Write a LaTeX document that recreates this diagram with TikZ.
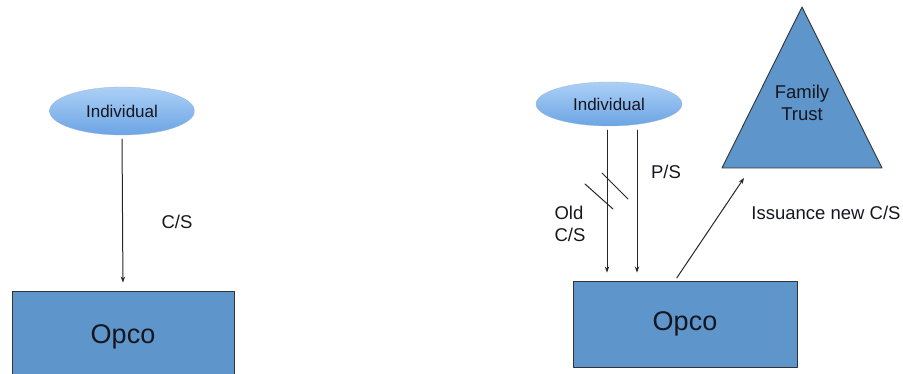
\documentclass[tikz,border=0pt]{standalone}
\usepackage{fontspec}
\setmainfont{Liberation Sans}
\usetikzlibrary{arrows.meta,shapes.geometric}
\definecolor{ovaltop}{RGB}{172,208,246}
\definecolor{ovalbot}{RGB}{108,164,228}
\definecolor{boxblue}{RGB}{94,149,202}
\definecolor{inkdark}{RGB}{22,22,32}

\begin{document}
\begin{tikzpicture}[x=1pt,y=-1pt,line cap=round,line join=round,
  font=\fontsize{18.5}{22}\selectfont,text=inkdark,
  person/.style={ellipse,draw=ovalbot!80!black!60,line width=0.3pt,top color=ovaltop,bottom color=ovalbot,inner sep=0pt,font=\fontsize{17}{20}\selectfont},
  company/.style={rectangle,draw=black!80,fill=boxblue,line width=0.9pt,inner sep=0pt,font=\fontsize{27}{30}\selectfont},
  flow/.style={-{Stealth[length=6pt,width=4.4pt]},draw=black!85,line width=1pt},
  tag/.style={inner sep=0pt,align=left}]
\useasboundingbox (0,0) rectangle (903,374);
% left: before
\node[person,minimum width=145,minimum height=48] (indA) at (122,111) {Individual};
\node[company,minimum width=222,minimum height=92] (opcoA) at (123,337) {Opco};
\draw[flow,shorten <=4pt,shorten >=8pt] (indA.south) -- (opcoA.north);
\node[tag] (csA) at (177,222) {C/S};
% right: after
\node[person,minimum width=146,minimum height=44] (indB) at (609,104) {Individual};
\node[company,minimum width=224,minimum height=86] (opcoB) at (685,324) {Opco};
\coordinate (trApex) at (802,7);
\coordinate (trLeft) at (722,168);
\coordinate (trRight) at (882,168);
\draw[fill=boxblue,draw=black!80,line width=0.9pt] (trApex) -- (trLeft) -- (trRight) -- cycle;
\node[tag,align=center] (trust) at (802,103) {Family\\Trust};
\coordinate (oldTop) at ([xshift=-2pt]indB.south);
\coordinate (oldEnd) at (oldTop |- opcoB.north);
\coordinate (prefTop) at ([xshift=28pt]indB.south);
\coordinate (prefEnd) at (prefTop |- opcoB.north);
\draw[flow,shorten <=4pt,shorten >=8pt] (oldTop) -- (oldEnd);
\draw[flow,shorten <=4pt,shorten >=8pt] (prefTop) -- (prefEnd);
\draw[black!85,line width=1pt] (585,184) -- (613,209);
\draw[black!85,line width=1pt] (602,173) -- (628,199);
\node[tag] (oldcs) at (570,224) {Old\\C/S};
\node[tag] (ps) at (666,172) {P/S};
\coordinate (issueEnd) at (744,178);
\draw[flow,shorten <=3pt] ([xshift=-10pt]opcoB.north) -- (issueEnd);
\node[tag] (issue) at (826,213) {Issuance new C/S};
\end{tikzpicture}
\end{document}
